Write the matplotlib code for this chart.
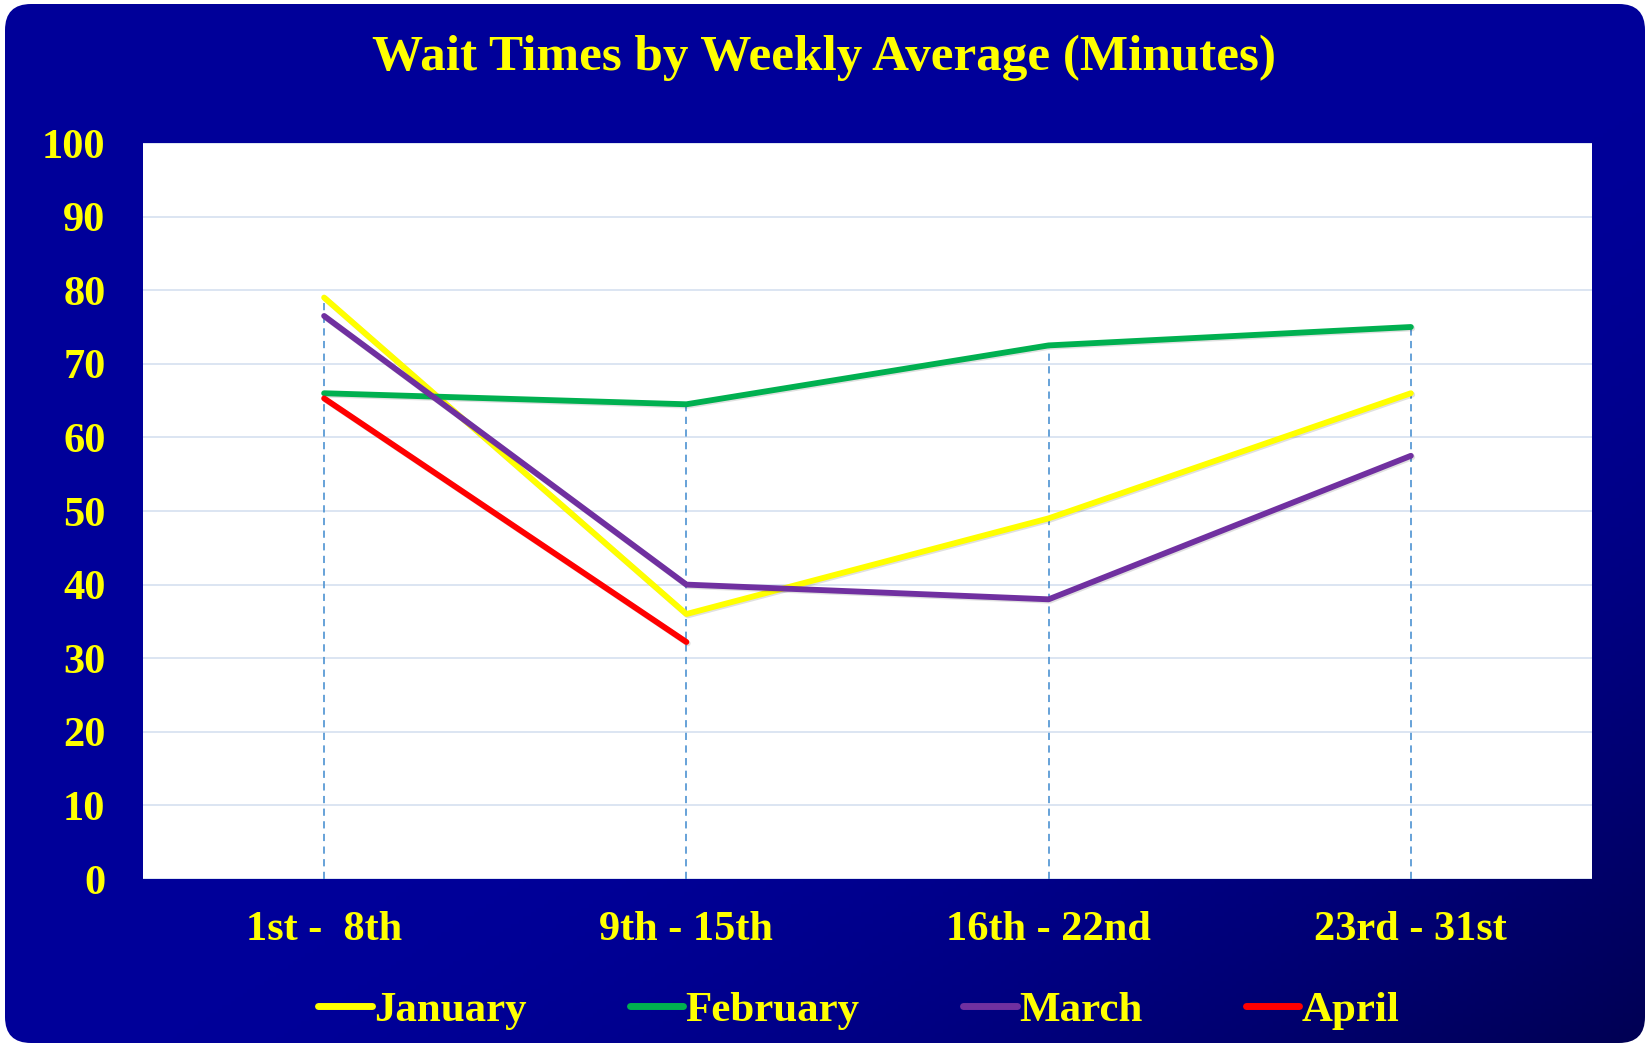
import numpy as np
import matplotlib
matplotlib.use("Agg")
import matplotlib.pyplot as plt
from matplotlib.patches import FancyBboxPatch
import matplotlib.patheffects as pe

categories = ["1st -  8th", "9th - 15th", "16th - 22nd", "23rd - 31st"]
january = [79, 36, 49, 66]
february = [66, 64.5, 72.5, 75]
march = [76.5, 40, 38, 57.5]
april = [65.3, 32.2]
series_names = ["January", "February", "March", "April"]
series_values = [january, february, march, april]
series_colors = ["#FFFF00", "#00B050", "#7030A0", "#FF0000"]
yticks = list(range(0, 101, 10))
title = "Wait Times by Weekly Average (Minutes)"

W, H = 1648, 1045
fig = plt.figure(figsize=(W / 100, H / 100), dpi=100)
fig.patch.set_facecolor("white")

# background with gradient, rounded corners
bg = fig.add_axes([0, 0, 1, 1])
bg.set_xlim(0, W)
bg.set_ylim(0, H)
bg.axis("off")
xx, yy = np.meshgrid(np.linspace(0, 1, 400), np.linspace(0, 1, 260))
t = np.clip(((xx + yy) / 2 - 0.55) / 0.45, 0, 1) ** 1.6
blue = (153 - 70 * t) / 255.0
img = np.dstack([np.zeros_like(blue), np.zeros_like(blue), blue])
im = bg.imshow(img, extent=[0, W, 0, H], origin="upper", aspect="auto", zorder=0)
box = FancyBboxPatch((5, 2), W - 8, H - 6, boxstyle="round,pad=0,rounding_size=26",
                     transform=bg.transData, facecolor="none", edgecolor="none")
bg.add_patch(box)
im.set_clip_path(box)

font = ["Liberation Serif", "DejaVu Serif"]

ax = fig.add_axes([143 / W, (H - 879) / H, 1449 / W, 736 / H])
ax.set_facecolor("white")
x = np.arange(len(categories))
ax.set_xlim(-0.5, len(categories) - 0.5)
ax.set_ylim(0, 100)
ax.set_yticks(yticks)
ax.yaxis.grid(True, color="#D6E0F0", lw=1.2, zorder=0)
ax.set_axisbelow(True)
for s in ax.spines.values():
    s.set_visible(False)

# drop lines
tops = []
for i in range(len(categories)):
    vals = [sv[i] for sv in series_values if i < len(sv)]
    tops.append(max(vals))
ax.vlines(x, 0, tops, colors="#5B9BD5", linestyles=(0, (4, 3)), lw=1.3, zorder=1)

for name, vals, c in zip(series_names, series_values, series_colors):
    ax.plot(x[:len(vals)], vals, color=c, lw=4.2, label=name, zorder=3,
            solid_capstyle="round",
            path_effects=[pe.SimpleLineShadow(offset=(1.0, -1.0), alpha=0.12), pe.Normal()])

ax.set_xticks(x)
ax.set_xticklabels(categories)
ax.tick_params(axis="x", length=0, pad=23)
ax.tick_params(axis="y", length=0, pad=27)
for lab in ax.get_xticklabels():
    lab.set_family(font)
    lab.set_fontweight("bold")
    lab.set_fontsize(30.5)
    lab.set_color("#FFFF00")
for lab in ax.get_yticklabels():
    lab.set_family(font)
    lab.set_fontweight("bold")
    lab.set_fontsize(30.5)
    lab.set_color("#FFFF00")

fig.text(0.5, 1 - 58 / H, title, ha="center", va="center", family=font,
         fontweight="bold", fontsize=36.8, color="#FFFF00")

handles, labels = ax.get_legend_handles_labels()
leg = fig.legend(handles, labels, loc="center", bbox_to_anchor=(0.521, 1 - 1010 / H),
                 ncol=4, frameon=False, handlelength=1.25, handletextpad=0.05,
                 columnspacing=2.4, prop={"family": font, "weight": "bold", "size": 31})
for txt in leg.get_texts():
    txt.set_color("#FFFF00")
for l in leg.get_lines():
    l.set_path_effects([])
    l.set_linewidth(5)

fig.savefig("out.png", dpi=100, facecolor="white")
